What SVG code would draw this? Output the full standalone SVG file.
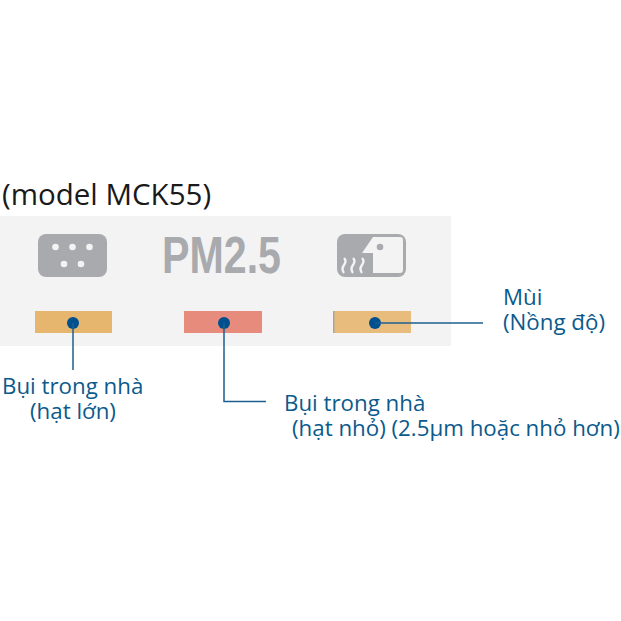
<svg xmlns="http://www.w3.org/2000/svg" width="621" height="621" viewBox="0 0 621 621">
<style>
.lbl{font-family:"Open Sans","Noto Sans",sans-serif;font-size:22.3px;fill:#0b5a8c}
.conn{fill:none;stroke:#1c5f8f;stroke-width:1.5}
.dot{fill:#00508f}
.ico{fill:#a9aaad}
.w{fill:#f3f3f4}
</style>
<rect width="621" height="621" fill="#fff"/>
<rect x="0" y="216" width="451" height="130" fill="#f3f3f4"/>
<text x="2" y="205" font-family="'Open Sans','Noto Sans',sans-serif" font-size="29.500" fill="#1a1a1a">(model MCK55)</text>
<g id="node-dust-large">
<rect x="38" y="234" width="69" height="43" rx="8" class="ico"/>
<g class="w"><circle cx="55.500" cy="247" r="3.300"/><circle cx="72.500" cy="247" r="3.300"/><circle cx="89.500" cy="247" r="3.300"/><circle cx="64" cy="264" r="3.300"/><circle cx="81" cy="264" r="3.300"/></g>
<rect x="35" y="311" width="77" height="22" fill="#e6b56e"/>
<circle cx="73" cy="323" r="6" class="dot"/>
<text x="2" y="394" class="lbl">Bụi trong nhà</text>
<text x="30" y="419" class="lbl">(hạt lớn)</text>
</g>
<g id="node-pm25">
<text x="162" y="273" font-family="'Liberation Sans',Arial,sans-serif" font-weight="700" font-size="51" fill="#a9aaad" textLength="119" lengthAdjust="spacingAndGlyphs">PM2.5</text>
<rect x="184" y="311" width="78" height="22" fill="#e78c7d"/>
<circle cx="224" cy="323" r="6" class="dot"/>
<text x="284" y="411" class="lbl">Bụi trong nhà</text>
<text x="292" y="436" class="lbl">(hạt nhỏ) (2.5µm hoặc nhỏ hơn)</text>
</g>
<g id="node-odor">
<rect x="337" y="234" width="69" height="43" rx="8" class="ico"/>
<path d="M373 237H400Q403 237 403 240V270Q403 273 400 273H373V253H362Z" fill="#f3f3f4"/>
<circle cx="380" cy="247" r="3.300" class="ico"/>
<g fill="none" stroke="#f3f3f4" stroke-width="2.400"><path d="M344 258q3 3 0 7t0 8"/><path d="M353 258q3 3 0 7t0 8"/><path d="M362 258q3 3 0 7t0 8"/></g>
<rect x="333" y="311" width="78" height="22" fill="#e8bc7c"/>
<rect x="333" y="311" width="1.500" height="22" fill="#a9a59c"/>
<circle cx="375" cy="323" r="6" class="dot"/>
<text x="503" y="305" class="lbl">Mùi</text>
<text x="503" y="330" class="lbl">(Nồng độ)</text>
</g>
<g id="connectors">
<path class="conn" d="M73 323V370"/>
<path class="conn" d="M224 323V401.500H266"/>
<path class="conn" d="M375 323H483"/>
</g>
</svg>
